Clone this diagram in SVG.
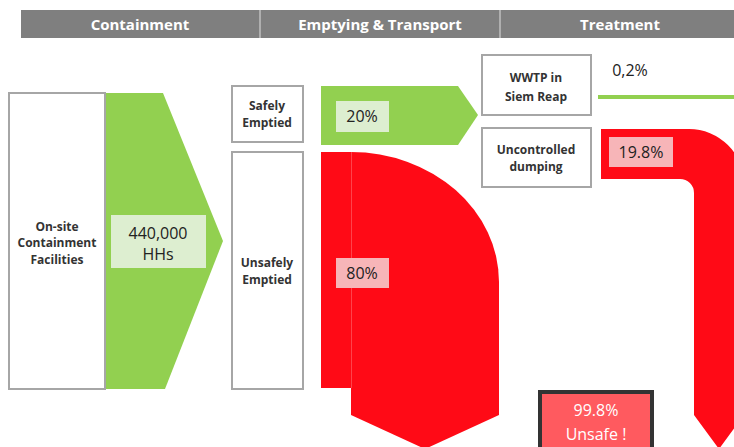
<svg xmlns="http://www.w3.org/2000/svg" width="734" height="447" viewBox="0 0 734 447">
<style>
text{font-family:"Open Sans","Liberation Sans",sans-serif}
.hd{fill:#fff;font-size:15px;font-weight:bold;text-anchor:middle}
.box{fill:#fff;stroke:#a6a6a6;stroke-width:2}
.bl{fill:#333;font-size:12px;font-weight:bold;text-anchor:middle}
.num{fill:#222;font-size:16px;text-anchor:middle}
.green{fill:#92d050}
.red{fill:#ff0a16}
.gl{fill:#ddeed0}
.pl{fill:#f7b5b8}
</style>
<rect width="734" height="447" fill="#fff"/>
<g id="header">
<rect x="21" y="10" width="713" height="28" fill="#7f7f7f"/>
<line x1="260" y1="10" x2="260" y2="38" stroke="#bfbfbf" stroke-width="1.5"/>
<line x1="500" y1="10" x2="500" y2="38" stroke="#bfbfbf" stroke-width="1.5"/>
<text class="hd" x="140" y="30">Containment</text>
<text class="hd" x="380" y="30">Emptying &amp; Transport</text>
<text class="hd" x="620" y="30">Treatment</text>
</g>
<g id="connectors">
<polygon class="green" points="105,93 163,93 223,241 165,389 105,389"/>
<polygon class="green" points="321,86 458,86 478,115 458,145 321,145"/>
<rect class="red" x="321" y="152" width="31" height="236"/>
<path class="red" d="M351,152 A148,130 0 0 1 499,282 L499,415 L425,449 L351,415 Z"/>
<line x1="351.5" y1="152" x2="351.5" y2="388" stroke="#ff6a70" stroke-width="0.6"/>
<line x1="598" y1="97" x2="734" y2="97" stroke="#92d050" stroke-width="4"/>
<path class="red" d="M601,129 L689,129 A55,55 0 0 1 744,184 L744,415 L719,449 L694,415 L694,193 A14,14 0 0 0 680,179 L601,179 Z"/>
</g>
<g id="n-onsite">
<rect class="box" x="9" y="93" width="96" height="296"/>
<text class="bl" x="57" y="231">On-site</text>
<text class="bl" x="57" y="247">Containment</text>
<text class="bl" x="57" y="264">Facilities</text>
</g>
<g id="n-hhs">
<rect class="gl" x="111" y="215" width="95" height="53"/>
<text class="num" x="158" y="239">440,000</text>
<text class="num" x="158" y="260">HHs</text>
</g>
<g id="n-safely">
<rect class="box" x="232" y="86" width="71" height="56"/>
<text class="bl" x="267" y="110">Safely</text>
<text class="bl" x="267" y="127">Emptied</text>
</g>
<g id="n-unsafely">
<rect class="box" x="232" y="152" width="71" height="237"/>
<text class="bl" x="267" y="267">Unsafely</text>
<text class="bl" x="267" y="284">Emptied</text>
</g>
<g id="n-20">
<rect class="gl" x="336" y="101" width="53" height="31"/>
<text class="num" x="362" y="122">20%</text>
</g>
<g id="n-80">
<rect class="pl" x="336" y="258" width="53" height="30"/>
<text class="num" x="362" y="279">80%</text>
</g>
<g id="n-wwtp">
<rect class="box" x="482" y="55" width="109" height="60"/>
<text class="bl" x="536" y="82">WWTP in</text>
<text class="bl" x="536" y="101">Siem Reap</text>
</g>
<g id="n-02">
<text class="num" x="630" y="76">0,2%</text>
</g>
<g id="n-dumping">
<rect class="box" x="482" y="128" width="109" height="59"/>
<text class="bl" x="536" y="154">Uncontrolled</text>
<text class="bl" x="536" y="171">dumping</text>
</g>
<g id="n-198">
<rect class="pl" x="609" y="137" width="64" height="30"/>
<text class="num" x="641" y="158">19.8%</text>
</g>
<g id="n-unsafe">
<rect x="540" y="392" width="112" height="60" fill="#ff5a5f" stroke="#333" stroke-width="4"/>
<text class="num" x="596" y="416" style="fill:#fff">99.8%</text>
<text class="num" x="596" y="440" style="fill:#fff">Unsafe !</text>
</g>
</svg>
